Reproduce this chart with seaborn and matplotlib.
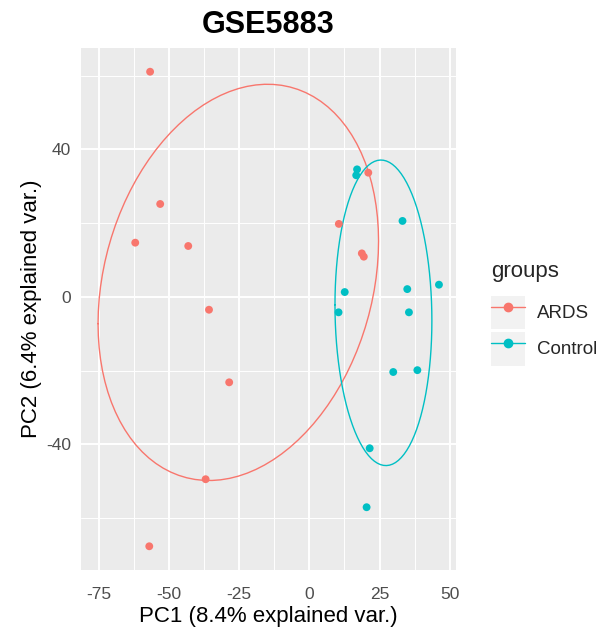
import numpy as np
import pandas as pd
import matplotlib
matplotlib.use("Agg")
import matplotlib.pyplot as plt
import seaborn as sns
from matplotlib.lines import Line2D
from matplotlib.patches import Patch

# PCA scores
ards_pc1 = [-56.8, -53.2, -62.1, -43.2, -35.8, -28.6, -37.0, -57.1, 21.0, 10.5, 18.7, 19.4]
ards_pc2 = [61.1, 25.2, 14.7, 13.8, -3.5, -23.2, -49.5, -67.7, 33.7, 19.8, 11.8, 10.9]
ctrl_pc1 = [17.0, 16.7, 33.2, 12.6, 10.4, 34.9, 35.5, 46.2, 29.9, 38.5, 21.5, 20.4]
ctrl_pc2 = [34.6, 33.0, 20.6, 1.3, -4.2, 2.1, -4.2, 3.3, -20.4, -19.9, -41.1, -57.1]
groups = ["ARDS", "Control"]
colors = ["#F8766D", "#00BFC4"]
x_ticks = [-75, -50, -25, 0, 25, 50]
y_ticks = [-40, 0, 40]

df = pd.DataFrame({
    "PC1": ards_pc1 + ctrl_pc1,
    "PC2": ards_pc2 + ctrl_pc2,
    "groups": ["ARDS"] * len(ards_pc1) + ["Control"] * len(ctrl_pc1),
})

# normal ellipse, prob 0.68 (like ggbiplot)
ed = np.sqrt(-2 * np.log(1 - 0.68))
theta = np.linspace(-np.pi, np.pi, 101)
circle = np.column_stack([np.cos(theta), np.sin(theta)])
ell_rows = []
for g in groups:
    sub = df[df.groups == g][["PC1", "PC2"]].to_numpy()
    mu = sub.mean(axis=0)
    sigma = np.cov(sub.T)
    pts = circle @ np.linalg.cholesky(sigma).T * ed + mu
    for i, (px, py) in enumerate(pts):
        ell_rows.append({"PC1": px, "PC2": py, "groups": g, "order": i})
ell = pd.DataFrame(ell_rows)

sns.set_style("darkgrid", {"axes.facecolor": "#EBEBEB", "grid.color": "white"})
plt.rcParams["font.family"] = ["Liberation Sans", "DejaVu Sans"]
plt.rcParams["axes.unicode_minus"] = False

fig = plt.figure(figsize=(6.11, 6.36), dpi=100)
ax = fig.add_axes([81 / 611, 1 - 570 / 636, 375 / 611, 522 / 636])

pal = dict(zip(groups, colors))
sns.lineplot(data=ell, x="PC1", y="PC2", hue="groups", palette=pal, sort=False,
             estimator=None, units="groups", lw=1.0, legend=False, ax=ax)
sns.scatterplot(data=df, x="PC1", y="PC2", hue="groups", palette=pal, s=32,
                linewidth=0, legend=False, ax=ax, zorder=3)

ax.margins(0.05)
xlim = ax.get_xlim()
ylim = ax.get_ylim()
ax.set_xticks(x_ticks)
ax.set_yticks(y_ticks)
ax.set_xticks([-87.5, -62.5, -37.5, -12.5, 12.5, 37.5, 62.5], minor=True)
ax.set_yticks([-60, -20, 20, 60], minor=True)
ax.set_xlim(xlim)
ax.set_ylim(ylim)
ax.grid(which="major", color="white", lw=1.4)
ax.grid(which="minor", color="white", lw=0.7)
for s in ax.spines.values():
    s.set_visible(False)
ax.tick_params(which="major", length=4, width=1, color="#333333",
               labelsize=12.5, labelcolor="#4D4D4D", pad=3)
ax.tick_params(axis="x", which="major", pad=8)
ax.tick_params(which="minor", length=0)
ax.set_xlabel("PC1 (8.4% explained var.)", fontsize=16, color="black", labelpad=3)
ax.set_ylabel("PC2 (6.4% explained var.)", fontsize=16, color="black", labelpad=3)
ax.set_title("GSE5883", fontsize=22, fontweight="bold", color="black", pad=11)

handles = [(Patch(facecolor="#F2F2F2", edgecolor="none"),
            Line2D([], [], color=c, marker="o", markersize=6, lw=1.0)) for c in colors]
leg = fig.legend(handles, groups, title="groups", loc="upper left",
                 bbox_to_anchor=(487 / 611, 1 - 257 / 636), frameon=False,
                 fontsize=13.5, title_fontsize=16, handlelength=1.85,
                 handleheight=2.4, handletextpad=0.62, labelspacing=0.12,
                 borderpad=0.2, borderaxespad=0)
leg._legend_box.align = "left"
leg._legend_box.sep = 10

fig.savefig("out.png", dpi=100)
